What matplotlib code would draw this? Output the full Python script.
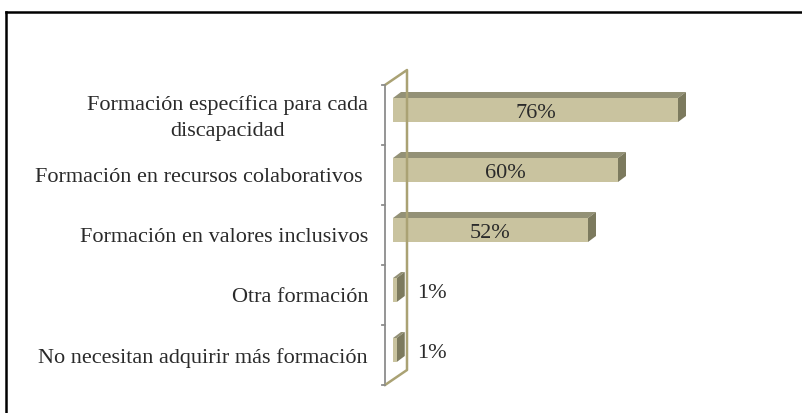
import matplotlib.pyplot as plt
from matplotlib.patches import Polygon
from matplotlib.lines import Line2D

categories = ['Formación específica para cada\ndiscapacidad',
              'Formación en recursos colaborativos ',
              'Formación en valores inclusivos',
              'Otra formación',
              'No necesitan adquirir más formación']
values = [76, 60, 52, 1, 1]
labels = ['76%', '60%', '52%', '1%', '1%']

W, H = 802, 413
fig = plt.figure(figsize=(W / 100, H / 100), dpi=100)

# axes placed in pixels: x=0 at 393px, 3.75 px per %, categories 85..385px
ax_left, ax_right = 393, 393 + 375
ax_top, ax_bot = 85, 385
ax = fig.add_axes([ax_left / W, 1 - ax_bot / H, (ax_right - ax_left) / W, (ax_bot - ax_top) / H])
ax.set_xlim(0, 100)
ax.set_ylim(len(values) - 0.5, -0.5)
ax.axis('off')

px_x = 100 / (ax_right - ax_left)        # data per pixel (x)
px_y = len(values) / (ax_bot - ax_top)   # data per pixel (y)

front_c = '#c9c39f'
top_c = '#939176'
side_c = '#7c7a5e'
wall_c = '#aaa274'
axis_c = '#8c8c8c'
txt_c = '#2a2a2a'

# 3d wall
x0 = -8 * px_x
x1 = 14 * px_x
dy_wall = 15 * px_y
ax.add_line(Line2D([x0, x0], [-0.5, len(values) - 0.5], color=axis_c, lw=1.3, clip_on=False))
ax.add_line(Line2D([x0, x1, x1, x0], [-0.5, -0.5 - dy_wall, len(values) - 0.5 - dy_wall, len(values) - 0.5],
                   color=wall_c, lw=1.8, clip_on=False))
for b in range(len(values) + 1):
    ax.add_line(Line2D([x0 - 3 * px_x, x0], [b - 0.5, b - 0.5], color=axis_c, lw=1.3, clip_on=False))

# bars
dx = 8 * px_x
dy = 6 * px_y
h = 24 * px_y
for i, v in enumerate(values):
    yc = i - 5 * px_y
    yt, yb = yc - h / 2, yc + h / 2
    ax.add_patch(Polygon([(0, yt), (v, yt), (v + dx, yt - dy), (dx, yt - dy)],
                         closed=True, fc=top_c, ec='none', clip_on=False))
    ax.add_patch(Polygon([(v, yt), (v + dx, yt - dy), (v + dx, yb - dy), (v, yb)],
                         closed=True, fc=side_c, ec='none', clip_on=False))
    ax.add_patch(Polygon([(0, yt), (v, yt), (v, yb), (0, yb)],
                         closed=True, fc=front_c, ec='none', clip_on=False))
    if v > 10:
        ax.text(v / 2, yc + 4 * px_y, labels[i], ha='center', va='center', fontsize=16,
                family='Liberation Serif', color=txt_c)
    else:
        ax.text(v + 5.5, yc + 4 * px_y, labels[i], ha='left', va='center', fontsize=16,
                family='Liberation Serif', color=txt_c)

for i, c in enumerate(categories):
    ax.text(-25 * px_x, i + (3 * px_y if i == 0 else 3 * px_y), c, ha='right', va='center',
            multialignment='center', linespacing=1.45, fontsize=16,
            family='Liberation Serif', color=txt_c)

# outer frame (top and left only)
fig.add_artist(Line2D([6 / W, 1], [1 - 12 / H, 1 - 12 / H], transform=fig.transFigure, color='black', lw=1.8))
fig.add_artist(Line2D([6 / W, 6 / W], [0, 1 - 12 / H], transform=fig.transFigure, color='black', lw=1.8))

fig.savefig('out.png', dpi=100)
